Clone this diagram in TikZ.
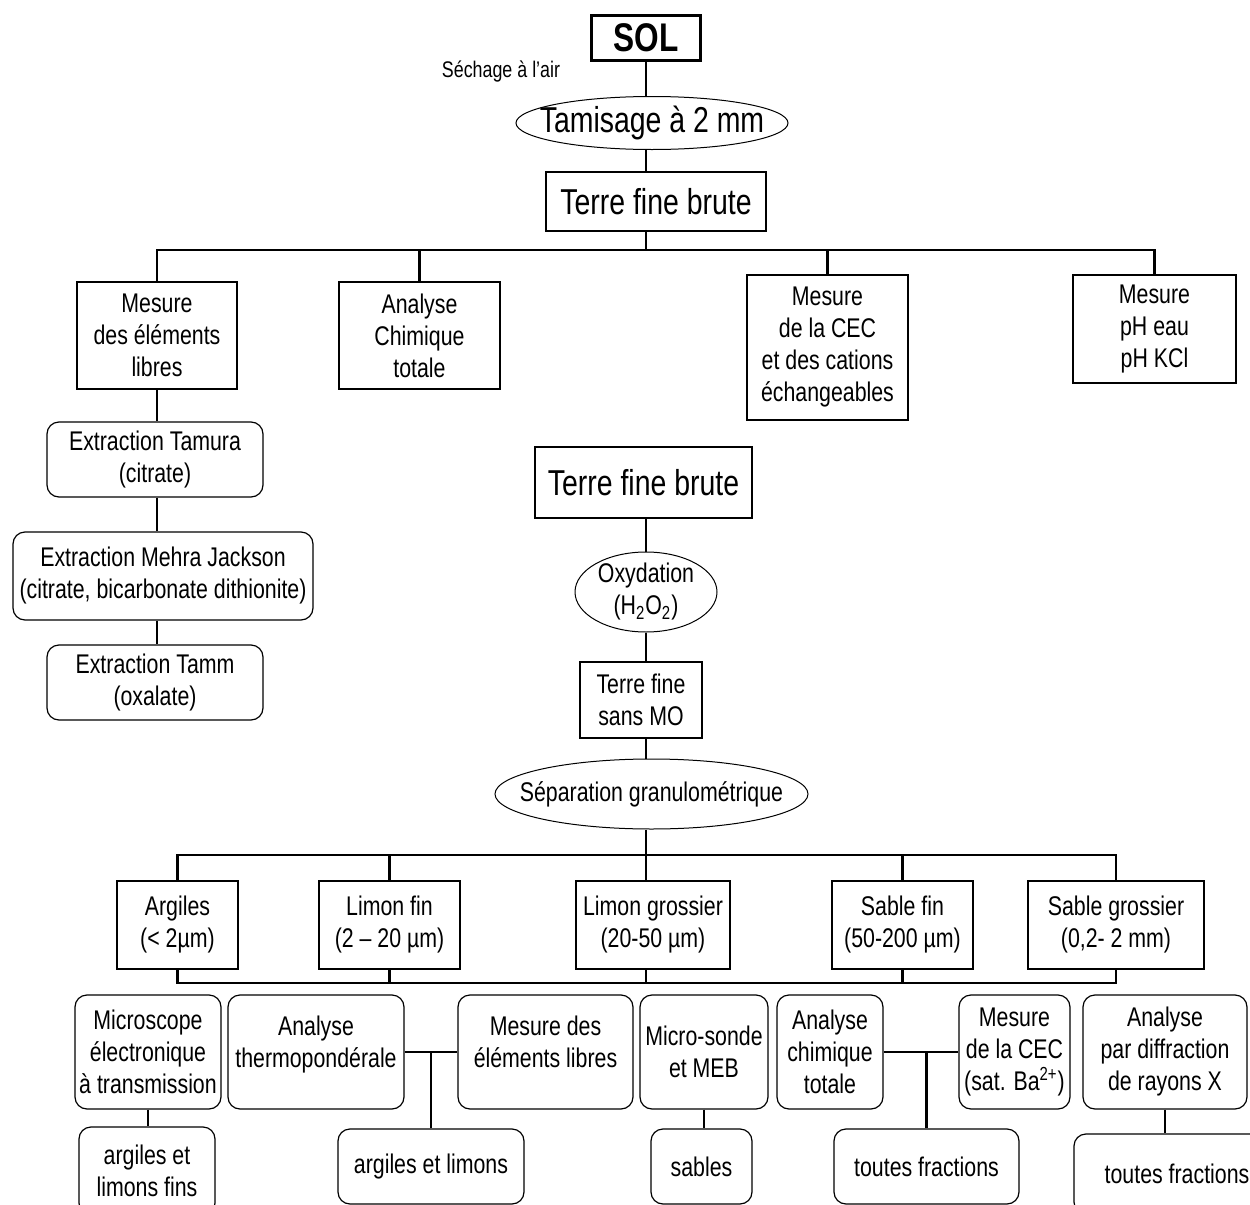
\documentclass[tikz,border=0pt]{standalone}
\usepackage{fontspec}
\setmainfont{Liberation Sans}[FakeStretch=0.79]
\usetikzlibrary{
	positioning
	,shapes.geometric
}
\newcommand\txtnorm{\fontsize{13.5}{16}\selectfont}
\newcommand\txtbig{\fontsize{18}{21}\selectfont}
\newcommand\txtsmall{\fontsize{11.3}{13}\selectfont}
\newcommand\txtsol{\bfseries\fontsize{20}{23}\selectfont}
\tikzset{default node/.style={
	inner sep=1pt,
	align=center,
	font=\txtnorm,
}}
\tikzset{
	box/.style={
		draw
		,rectangle
		,line width=0.7pt
	}
	,rbox/.style={
		box
		,rounded corners=6pt
		,line width=0.6pt
	}
	,oval/.style={
		draw
		,ellipse
		,inner sep=0pt
		,line width=0.5pt
		,label={[default node]center:{#1}}
	}
	,link/.style={
		line width=1.3pt
	}
}

\begin{document}
\begin{tikzpicture}[x=0.5pt, y=-0.5pt, every node/.style={default node}]
\useasboundingbox (0,0) rectangle (1250,1205);
\clip (0,0) rectangle (1250,1205);
\coordinate (spine) at (646,0);
\coordinate (bus1) at (0,250);
\coordinate (bus2) at (0,855);
\coordinate (bus3) at (0,983);

\node[box, line width=1.5pt, font=\txtsol, minimum width=54.5pt, minimum height=22.5pt] (sol) at (646,37.5) {SOL};
\node[font=\txtsmall] (sechage) at (501,72) {Séchage à l'air};
\node[oval={\txtbig Tamisage à 2 mm}, minimum width=136pt, minimum height=26.5pt] (tamis) at (652,123) {};
\node[box, font=\txtbig, minimum width=110pt, minimum height=29.5pt] (tfb) at (656,201.5) {Terre fine brute};

\node[box, minimum width=80pt, minimum height=53.5pt] (mel) at (157,335.5) {Mesure\\des éléments\\libres};
\node[box, minimum width=80.5pt, minimum height=53.5pt] (ach) at (419.5,335.5) {Analyse\\Chimique\\totale};
\node[box, minimum width=80.5pt, minimum height=72.5pt] (cec) at (827.5,347.5) {Mesure\\de la CEC\\et des cations\\échangeables};
\node[box, minimum width=81.5pt, minimum height=54pt] (ph) at (1154.5,329) {Mesure\\pH eau\\pH KCl};

\node[rbox, minimum width=108pt, minimum height=37.5pt] (tam) at (155,459.5) {Extraction Tamura\\(citrate)};
\node[rbox, minimum width=150pt, minimum height=44pt] (mj) at (163,576) {Extraction Mehra Jackson\\(citrate, bicarbonate dithionite)};
\node[rbox, minimum width=108pt, minimum height=37.5pt] (tamm) at (155,682.5) {Extraction Tamm\\(oxalate)};

\node[box, font=\txtbig, minimum width=108.5pt, minimum height=35.5pt] (tfb2) at (643.5,482.5) {Terre fine brute};
\node[oval={Oxydation\\(H\textsubscript{2}O\textsubscript{2})}, minimum width=71pt, minimum height=40pt] (oxy) at (646,592) {};
\node[box, minimum width=61pt, minimum height=38pt] (smo) at (641,700) {Terre fine\\sans MO};
\node[oval={Séparation granulométrique}, minimum width=156.5pt, minimum height=35pt] (sep) at (651.5,794) {};

\node[box, minimum width=60.5pt, minimum height=44pt] (arg) at (177.5,925) {Argiles\\(< 2µm)};
\node[box, minimum width=70.5pt, minimum height=44pt] (lfin) at (389.5,925) {Limon fin\\(2 -- 20 µm)};
\node[box, minimum width=77pt, minimum height=44pt] (lgros) at (653,925) {Limon grossier\\(20-50 µm)};
\node[box, minimum width=70.5pt, minimum height=44pt] (sfin) at (902.5,925) {Sable fin\\(50-200 µm)};
\node[box, minimum width=88pt, minimum height=44pt] (sgros) at (1116,925) {Sable grossier\\(0,2- 2 mm)};

\node[rbox, minimum width=73pt, minimum height=57pt] (mic) at (148,1052) {Microscope\\électronique\\à transmission};
\node[rbox, minimum width=88pt, minimum height=57pt] (thermo) at (316,1052) {Analyse\\thermopondérale\\[-6pt]};
\node[rbox, minimum width=87.5pt, minimum height=57pt] (mdes) at (545.5,1052) {Mesure des\\éléments libres\\[-6pt]};
\node[rbox, minimum width=64pt, minimum height=57pt] (msonde) at (704,1052) {Micro-sonde\\et MEB};
\node[rbox, minimum width=53pt, minimum height=57pt] (achim) at (830,1052) {Analyse\\chimique\\totale};
\node[rbox, minimum width=55.5pt, minimum height=57pt] (mcec) at (1014.5,1052) {Mesure\\de la CEC\\(sat. Ba\textsuperscript{2+})};
\node[rbox, minimum width=82pt, minimum height=57pt] (diffr) at (1165,1052) {Analyse\\par diffraction\\de rayons X};

\node[rbox, minimum width=68pt, minimum height=44pt] (alf) at (147,1171) {argiles et\\limons fins};
\node[rbox, minimum width=93pt, minimum height=37.5pt] (al) at (431,1166.5) {argiles et limons};
\node[rbox, minimum width=50.5pt, minimum height=37.5pt] (sab) at (701.5,1166.5) {sables};
\node[rbox, minimum width=92.5pt, minimum height=37.5pt] (tf1) at (926.5,1166.5) {toutes fractions};
\node[rbox, minimum width=103pt, minimum height=40pt] (tf2) at (1177,1174) {toutes fractions};

\draw[link] (spine |- sol.south) -- (spine |- tamis.north);
\draw[link] (spine |- tamis.south) -- (spine |- tfb.north);
\draw[link] (spine |- tfb.south) -- (spine |- bus1);
\draw[link] (mel.north) |- (ph.north |- bus1) -- (ph.north);
\draw[link] (ach.north) -- (ach.north |- bus1);
\draw[link] (cec.north) -- (cec.north |- bus1);

\draw[link] (mel.south) -- (mel.south |- tam.north);
\draw[link] (mel.south |- tam.south) -- (mel.south |- mj.north);
\draw[link] (mel.south |- mj.south) -- (mel.south |- tamm.north);

\draw[link] (spine |- tfb2.south) -- (spine |- oxy.north);
\draw[link] (spine |- oxy.south) -- (spine |- smo.north);
\draw[link] (spine |- smo.south) -- (spine |- sep.north);
\draw[link] (spine |- sep.south) -- (spine |- bus2);

\draw[link] (arg.north) |- (sgros.north |- bus2) -- (sgros.north);
\draw[link] (lfin.north) -- (lfin.north |- bus2);
\draw[link] (spine |- lgros.north) -- (spine |- bus2);
\draw[link] (sfin.north) -- (sfin.north |- bus2);
\draw[link] (arg.south) |- (sgros.south |- bus3) -- (sgros.south);
\draw[link] (lfin.south) -- (lfin.south |- bus3);
\draw[link] (spine |- lgros.south) -- (spine |- bus3);
\draw[link] (sfin.south) -- (sfin.south |- bus3);

\draw[link] (thermo.east) -- (thermo.east -| mdes.west);
\draw[link] (al.north) -- (al.north |- thermo.east);
\draw[link] (achim.east) -- (achim.east -| mcec.west);
\draw[link] (tf1.north) -- (tf1.north |- achim.east);
\draw[link] (mic.south) -- (mic.south |- alf.north);
\draw[link] (msonde.south) -- (msonde.south |- sab.north);
\draw[link] (diffr.south) -- (diffr.south |- tf2.north);
\end{tikzpicture}
\end{document}
